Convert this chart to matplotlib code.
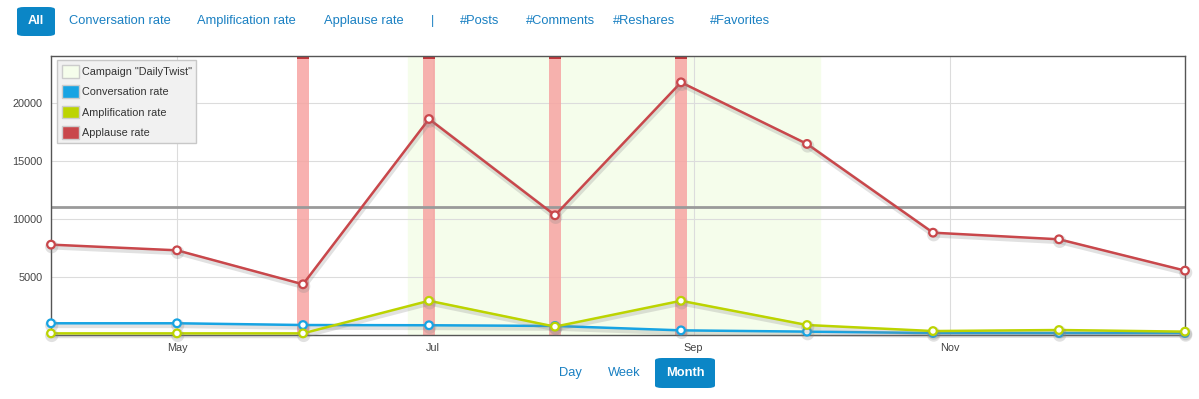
import numpy as np
import pandas as pd
import matplotlib
matplotlib.use("Agg")
import matplotlib.pyplot as plt
import matplotlib.dates as mdates
import matplotlib.patheffects as pe
from matplotlib.patches import Patch, FancyBboxPatch

plt.rcParams['font.family'] = ['Liberation Sans', 'DejaVu Sans']

# data
dates = pd.to_datetime(['2012-04-01', '2012-05-01', '2012-05-31', '2012-06-30', '2012-07-30',
                        '2012-08-29', '2012-09-28', '2012-10-28', '2012-11-27', '2012-12-27'])
applause = [7790, 7300, 4370, 18620, 10320, 21780, 16470, 8820, 8250, 5550]
conversation = [1010, 1010, 860, 840, 780, 400, 290, 170, 170, 170]
amplification = [140, 140, 140, 2950, 720, 2950, 860, 340, 430, 290]

campaign_start = pd.Timestamp('2012-06-25')
campaign_end = pd.Timestamp('2012-10-01')
event_dates = pd.to_datetime(['2012-05-31', '2012-06-30', '2012-07-30', '2012-08-29'])
avg_line = 11000

top_links = ['Conversation rate', 'Amplification rate', 'Applause rate', '|',
             '#Posts', '#Comments', '#Reshares', '#Favorites']
top_x = [69, 197, 324, 431, 460, 526, 613, 710]

c_conv = '#17a4e3'
c_ampl = '#bcd400'
c_appl = '#c9474b'
c_camp = '#f5fdeb'
c_band = '#f7a4a2'
c_btn = '#0b86c6'
c_link = '#1a80c2'

W, H = 1199, 399
fig = plt.figure(figsize=(W / 100, H / 100), dpi=100)
ax = fig.add_axes([51 / W, 1 - 335 / H, 1134 / W, 279 / H])

# campaign + event bands
ax.axvspan(campaign_start, campaign_end, color=c_camp, zorder=0)
for d in event_dates:
    ax.axvspan(d - pd.Timedelta(hours=35), d + pd.Timedelta(hours=35),
               color=c_band, alpha=0.85, zorder=1, lw=0)
    ax.axvspan(d - pd.Timedelta(hours=35), d + pd.Timedelta(hours=35),
               ymin=0.99, ymax=1, color='#c0393d', zorder=1.5, lw=0)

ax.axhline(avg_line, color='#9a9a9a', lw=2, zorder=2)

shadow = [pe.SimpleLineShadow(offset=(0.5, -1.5), shadow_color='#888', alpha=0.25, linewidth=4),
          pe.Normal()]
for vals, col in [(conversation, c_conv), (amplification, c_ampl), (applause, c_appl)]:
    ax.plot(dates, vals, color=col, lw=1.8, marker='o', ms=5.5, mfc='white', mec=col,
            mew=1.6, zorder=4, path_effects=shadow, clip_on=False)

ax.set_xlim(dates[0], dates[-1])
ax.set_ylim(0, 24050)
ax.set_yticks([5000, 10000, 15000, 20000])
ax.xaxis.set_major_locator(mdates.MonthLocator(bymonth=[5, 7, 9, 11]))
ax.xaxis.set_major_formatter(mdates.DateFormatter('%b'))
ax.tick_params(length=0, labelsize=7.8, colors='#444')
ax.tick_params(axis='x', pad=6)
ax.tick_params(axis='y', pad=6)
ax.grid(True, color='#dcdcdc', lw=0.8, zorder=0.5)
ax.set_axisbelow(True)
for s in ax.spines.values():
    s.set_color('#555')
    s.set_linewidth(1)

handles = [Patch(facecolor=c_camp, edgecolor='#ccc', label='Campaign "DailyTwist"'),
           Patch(facecolor=c_conv, edgecolor='#ccc', label='Conversation rate'),
           Patch(facecolor=c_ampl, edgecolor='#ccc', label='Amplification rate'),
           Patch(facecolor=c_appl, edgecolor='#ccc', label='Applause rate')]
leg = ax.legend(handles=handles, loc='upper left', bbox_to_anchor=(0.005, 0.985),
                fontsize=7.8, frameon=True, fancybox=False, handlelength=1.6,
                handleheight=1.4, handletextpad=0.25, labelspacing=0.72,
                borderpad=0.45, borderaxespad=0)
leg.get_frame().set_facecolor('#f1f1f1')
leg.get_frame().set_edgecolor('#c8c8c8')
leg.get_frame().set_alpha(1)
leg.set_zorder(10)
for t in leg.get_texts():
    t.set_color('#333')

# top buttons / links
fig.patches.append(FancyBboxPatch((17 / W, 1 - 36 / H), 38 / W, 29 / H,
                                  boxstyle='round,pad=0,rounding_size=0.006',
                                  transform=fig.transFigure, fc=c_btn, ec='none'))
fig.text(36 / W, 1 - 21 / H, 'All', color='white', fontsize=9.3, fontweight='bold',
         ha='center', va='center')
for lbl, x in zip(top_links, top_x):
    fig.text(x / W, 1 - 21 / H, lbl, color=c_link, fontsize=9.3, ha='left', va='center')

# bottom range buttons
fig.patches.append(FancyBboxPatch((655 / W, 1 - 388 / H), 60 / W, 30 / H,
                                  boxstyle='round,pad=0,rounding_size=0.006',
                                  transform=fig.transFigure, fc=c_btn, ec='none'))
fig.text(570 / W, 1 - 373 / H, 'Day', color=c_link, fontsize=9.3, ha='center', va='center')
fig.text(624 / W, 1 - 373 / H, 'Week', color=c_link, fontsize=9.3, ha='center', va='center')
fig.text(685 / W, 1 - 373 / H, 'Month', color='white', fontsize=9.3, fontweight='bold',
         ha='center', va='center')

fig.savefig('out.png', dpi=100)
